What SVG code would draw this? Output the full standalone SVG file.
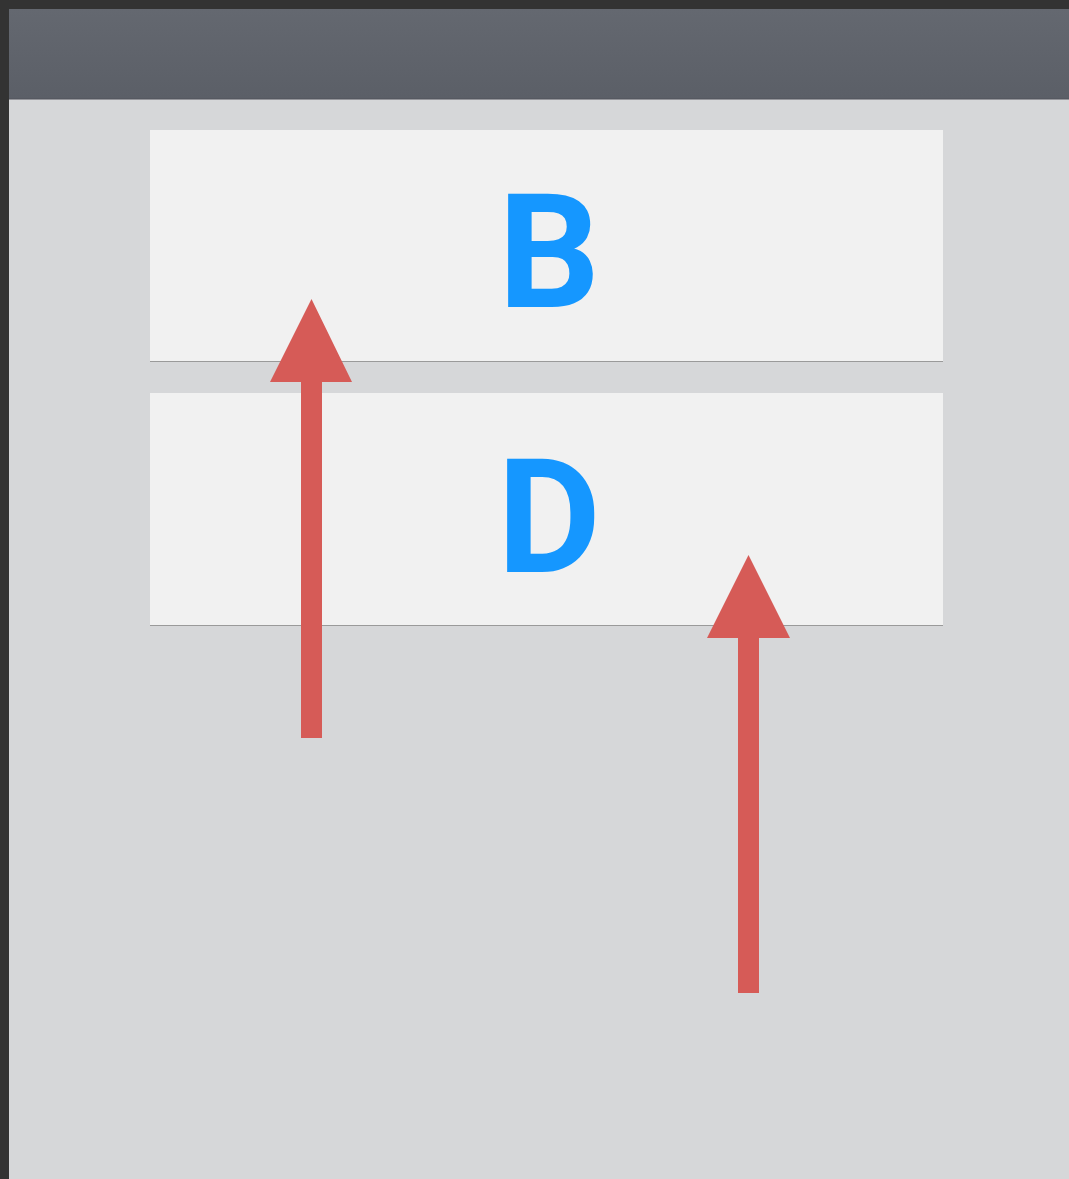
<svg xmlns="http://www.w3.org/2000/svg" width="1069" height="1179" viewBox="0 0 1069 1179">
<defs>
<linearGradient id="hdr" x1="0" y1="0" x2="0" y2="1">
<stop offset="0" stop-color="#646870"/>
<stop offset="1" stop-color="#5b5f67"/>
</linearGradient>
<style>
.box{fill:#f1f1f1}
.edge{stroke:#9a9a9a;stroke-width:1}
.lbl{font-family:Roboto,"Liberation Sans",Arial,sans-serif;font-weight:bold;font-size:160px;fill:#1597ff;text-anchor:middle}
.arrow{fill:#d65b57}
</style>
</defs>
<rect x="0" y="0" width="1069" height="1179" fill="#333333"/>
<rect x="9" y="9" width="1060" height="1170" fill="#d6d7d9"/>
<rect x="9" y="9" width="1060" height="90" fill="url(#hdr)"/>
<line x1="9" y1="99" x2="1069" y2="99" stroke="#52555c" stroke-width="1"/>
<g id="node-B">
<rect class="box" x="150" y="130" width="793" height="231"/>
<line class="edge" x1="150" y1="361.5" x2="943" y2="361.5"/>
<text class="lbl" x="549" y="307">B</text>
</g>
<g id="node-D">
<rect class="box" x="150" y="393" width="793" height="232"/>
<line class="edge" x1="150" y1="625.5" x2="943" y2="625.5"/>
<text class="lbl" x="549" y="572">D</text>
</g>
<g id="connectors">
<polygon class="arrow" points="301,738 322,738 322,382 352,382 311.5,299 270,382 301,382"/>
<polygon class="arrow" points="738,993 759,993 759,638 790,638 748.5,555 707,638 738,638"/>
</g>
</svg>
